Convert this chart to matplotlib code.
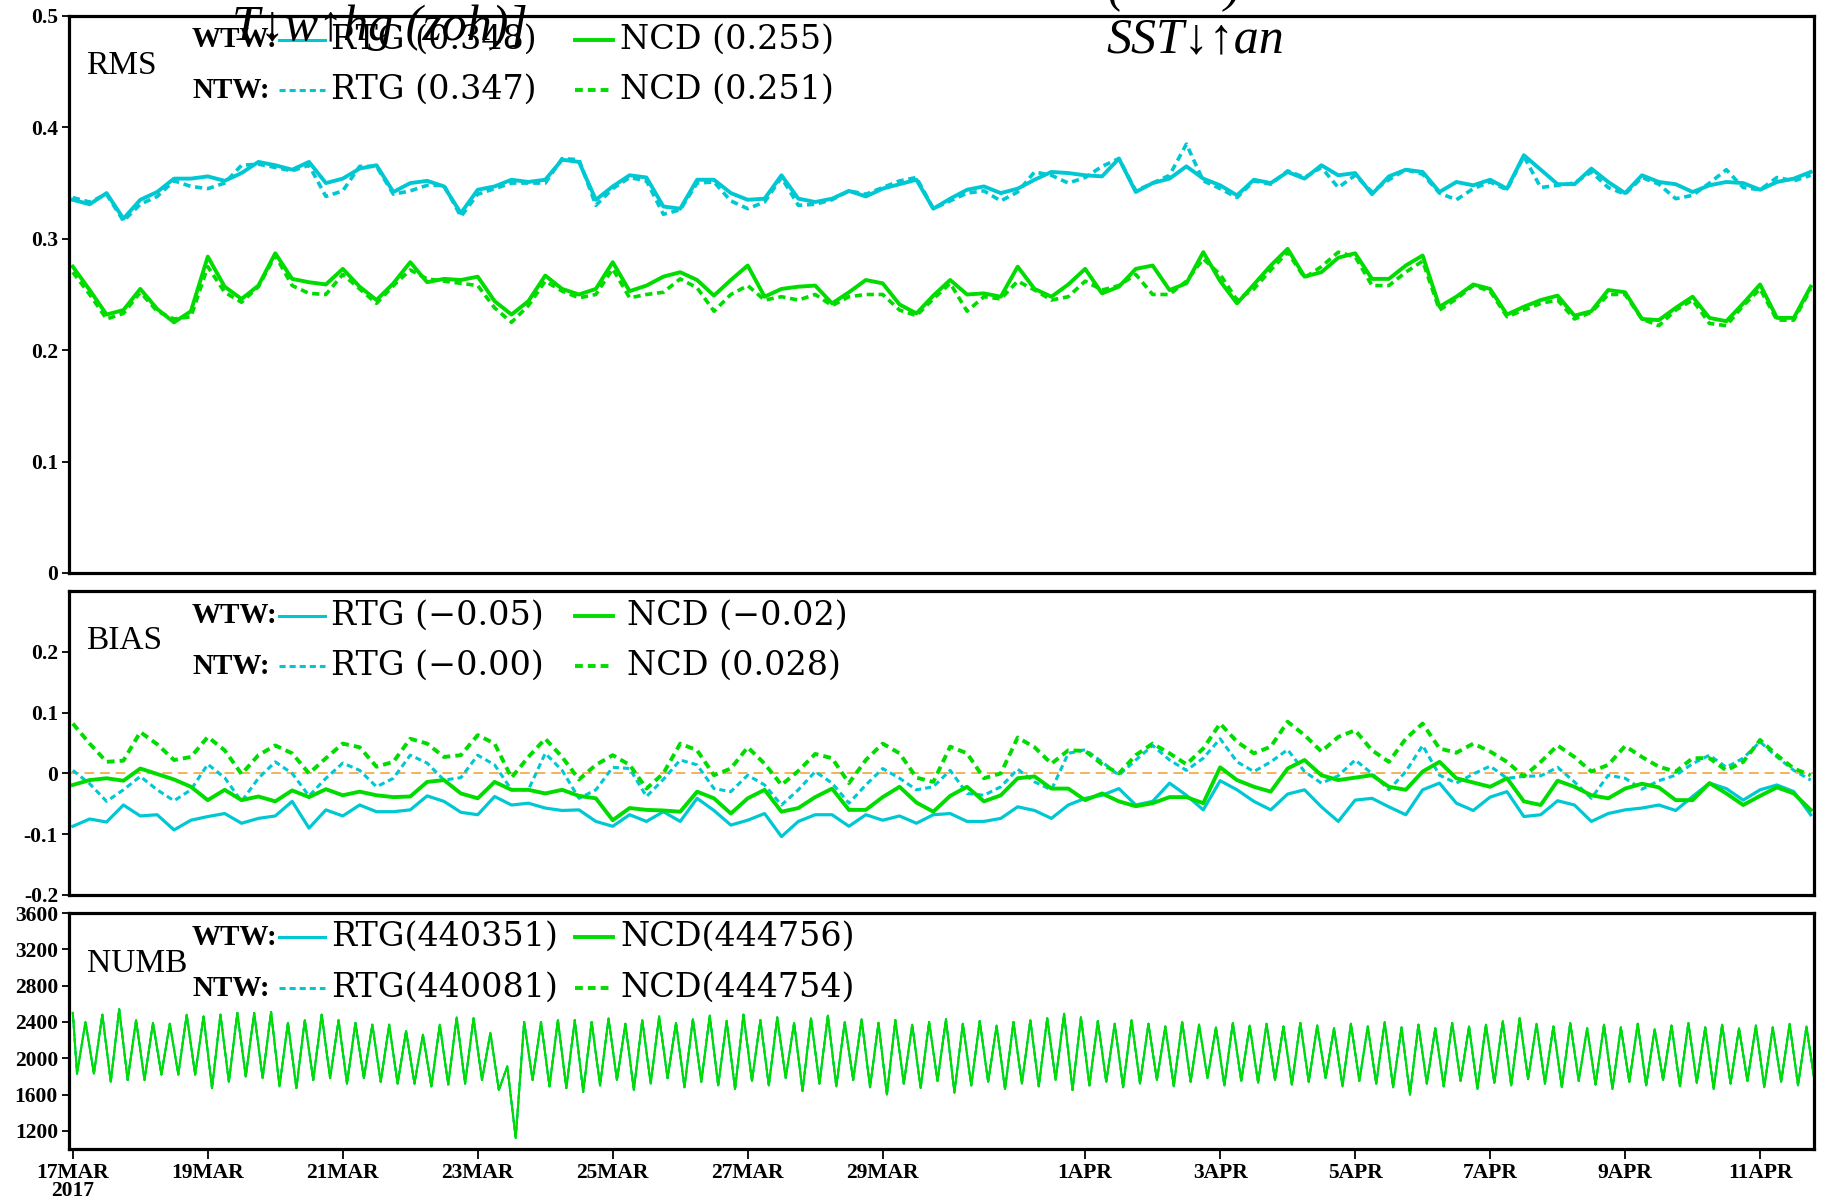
import matplotlib
matplotlib.use('Agg')
import matplotlib.pyplot as plt
import numpy as np

# 6-hourly SST verification, starting 17MAR2017 00Z
rms_rtg_wtw = [0.335, 0.331, 0.341, 0.318, 0.335, 0.342, 0.354, 0.354, 0.356, 0.352,
               0.359, 0.369, 0.366, 0.362, 0.369, 0.350, 0.354, 0.363, 0.366, 0.342,
               0.350, 0.352, 0.347, 0.323, 0.344, 0.347, 0.353, 0.351, 0.353, 0.371,
               0.369, 0.335, 0.347, 0.357, 0.355,
               0.329, 0.327, 0.353, 0.353, 0.341, 0.335, 0.336, 0.357, 0.336, 0.333,
               0.336, 0.343, 0.338, 0.345, 0.349, 0.353, 0.327, 0.336, 0.344, 0.347,
               0.341, 0.345, 0.353, 0.360, 0.359, 0.357, 0.356, 0.372, 0.342, 0.350,
               0.354, 0.365, 0.354, 0.348,
               0.339, 0.353, 0.350, 0.360, 0.354, 0.366, 0.357, 0.359, 0.340, 0.356,
               0.362, 0.360, 0.342, 0.351, 0.348, 0.353, 0.345, 0.375, 0.362, 0.349,
               0.349, 0.363, 0.351, 0.341, 0.357, 0.351, 0.349, 0.342, 0.348, 0.351,
               0.350, 0.344, 0.351, 0.354, 0.360]
rms_rtg_ntw = [0.337, 0.333, 0.340, 0.316, 0.331, 0.338, 0.352, 0.347, 0.345, 0.350,
               0.366, 0.367, 0.364, 0.361, 0.366, 0.338, 0.343, 0.365, 0.365, 0.340,
               0.343, 0.348, 0.348, 0.320, 0.340, 0.345, 0.350, 0.350, 0.350, 0.372,
               0.371, 0.330, 0.345, 0.355, 0.352,
               0.322, 0.326, 0.350, 0.351, 0.334, 0.327, 0.333, 0.355, 0.330, 0.331,
               0.335, 0.343, 0.340, 0.346, 0.352, 0.355, 0.327, 0.334, 0.341, 0.343,
               0.334, 0.342, 0.360, 0.357, 0.350, 0.355, 0.365, 0.372, 0.343, 0.350,
               0.357, 0.385, 0.352, 0.345,
               0.337, 0.352, 0.349, 0.361, 0.355, 0.364, 0.346, 0.357, 0.342, 0.353,
               0.362, 0.358, 0.341, 0.335, 0.345, 0.351, 0.344, 0.374, 0.346, 0.348,
               0.350, 0.360, 0.346, 0.340, 0.355, 0.349, 0.336, 0.339, 0.350, 0.362,
               0.346, 0.344, 0.355, 0.352, 0.357]
rms_ncd_wtw = [0.275, 0.254, 0.232, 0.236, 0.255, 0.237, 0.225, 0.235, 0.284, 0.257,
               0.246, 0.258, 0.287, 0.264, 0.261, 0.259, 0.273, 0.257, 0.245, 0.260,
               0.279, 0.261, 0.264, 0.263, 0.266, 0.244, 0.232, 0.244, 0.267, 0.255,
               0.250, 0.255, 0.279, 0.253, 0.258,
               0.266, 0.270, 0.263, 0.249, 0.263, 0.276, 0.248, 0.255, 0.257, 0.258,
               0.242, 0.252, 0.263, 0.260, 0.241, 0.233, 0.249, 0.263, 0.250, 0.251,
               0.248, 0.275, 0.255, 0.248, 0.259, 0.273, 0.251, 0.257, 0.273, 0.276,
               0.254, 0.260, 0.288, 0.262,
               0.242, 0.259, 0.276, 0.291, 0.266, 0.270, 0.283, 0.287, 0.264, 0.264,
               0.276, 0.285, 0.239, 0.248, 0.259, 0.255, 0.232, 0.239, 0.245, 0.249,
               0.231, 0.235, 0.254, 0.252, 0.228, 0.227, 0.238, 0.248, 0.229, 0.226,
               0.242, 0.259, 0.229, 0.229, 0.257]
rms_ncd_ntw = [0.270, 0.250, 0.228, 0.233, 0.252, 0.235, 0.228, 0.230, 0.275, 0.252,
               0.243, 0.257, 0.285, 0.258, 0.251, 0.250, 0.268, 0.255, 0.242, 0.258,
               0.272, 0.264, 0.262, 0.260, 0.258, 0.238, 0.225, 0.240, 0.262, 0.253,
               0.247, 0.250, 0.273, 0.247, 0.250,
               0.252, 0.264, 0.256, 0.235, 0.250, 0.258, 0.245, 0.248, 0.245, 0.250,
               0.240, 0.248, 0.250, 0.250, 0.236, 0.231, 0.246, 0.260, 0.235, 0.248,
               0.246, 0.262, 0.254, 0.245, 0.248, 0.262, 0.254, 0.258, 0.268, 0.250,
               0.250, 0.262, 0.282, 0.268,
               0.245, 0.255, 0.272, 0.288, 0.265, 0.275, 0.288, 0.284, 0.258, 0.258,
               0.270, 0.280, 0.236, 0.246, 0.258, 0.253, 0.230, 0.236, 0.242, 0.245,
               0.228, 0.234, 0.250, 0.250, 0.228, 0.222, 0.236, 0.245, 0.224, 0.222,
               0.240, 0.255, 0.227, 0.227, 0.255]

bias_rtg_wtw = [-0.087, -0.075, -0.080, -0.052, -0.070, -0.068, -0.093, -0.077, -0.071, -0.066,
                -0.082, -0.074, -0.070, -0.046, -0.090, -0.060, -0.070, -0.052, -0.063, -0.063,
                -0.060, -0.037, -0.046, -0.064, -0.068, -0.038, -0.052, -0.049, -0.057, -0.061,
                -0.060, -0.079, -0.087, -0.068, -0.079,
                -0.063, -0.079, -0.041, -0.061, -0.085, -0.077, -0.066, -0.104, -0.079, -0.068,
                -0.068, -0.087, -0.068, -0.077, -0.070, -0.082, -0.068, -0.066, -0.079, -0.079,
                -0.074, -0.055, -0.061, -0.074, -0.052, -0.041, -0.036, -0.025, -0.052, -0.046,
                -0.016, -0.036, -0.060, -0.012,
                -0.027, -0.046, -0.060, -0.034, -0.027, -0.055, -0.079, -0.044, -0.041, -0.055,
                -0.068, -0.027, -0.016, -0.049, -0.061, -0.039, -0.030, -0.071, -0.068, -0.045,
                -0.052, -0.079, -0.066, -0.060, -0.057, -0.052, -0.061, -0.038, -0.016, -0.025,
                -0.044, -0.027, -0.019, -0.030, -0.068]
bias_rtg_ntw = [0.005, -0.017, -0.046, -0.027, -0.005, -0.027, -0.045, -0.027, 0.015, -0.007,
                -0.046, -0.008, 0.019, 0.000, -0.037, -0.008, 0.017, 0.005, -0.022, -0.008,
                0.030, 0.017, -0.011, -0.007, 0.030, 0.014, -0.027, -0.027, 0.033, 0.005,
                -0.041, -0.027, 0.010, 0.008, -0.038,
                -0.010, 0.022, 0.014, -0.025, -0.030, -0.003, -0.019, -0.052, -0.027, 0.003,
                -0.016, -0.049, -0.019, 0.008, -0.008, -0.027, -0.022, 0.005, -0.033, -0.036,
                -0.022, 0.007, -0.014, -0.027, 0.033, 0.039, 0.019, -0.003, 0.022, 0.046,
                0.022, 0.005, 0.025, 0.057,
                0.019, 0.003, 0.019, 0.039, 0.003, -0.016, -0.004, 0.022, 0.000, -0.027,
                0.003, 0.046, -0.003, -0.016, -0.001, 0.012, -0.008, -0.005, -0.004, 0.010,
                -0.014, -0.041, -0.003, -0.008, -0.026, -0.012, -0.003, 0.016, 0.030, 0.010,
                0.025, 0.052, 0.027, 0.005, -0.011]
bias_ncd_wtw = [-0.019, -0.011, -0.008, -0.012, 0.008, -0.001, -0.010, -0.022, -0.044, -0.027,
                -0.044, -0.038, -0.046, -0.028, -0.039, -0.026, -0.036, -0.030, -0.036, -0.039,
                -0.038, -0.014, -0.011, -0.033, -0.041, -0.014, -0.027, -0.027, -0.033, -0.027,
                -0.037, -0.041, -0.077, -0.057, -0.060,
                -0.061, -0.063, -0.030, -0.041, -0.066, -0.041, -0.027, -0.063, -0.057, -0.039,
                -0.025, -0.060, -0.060, -0.039, -0.022, -0.048, -0.063, -0.037, -0.022, -0.046,
                -0.036, -0.008, -0.005, -0.025, -0.025, -0.044, -0.033, -0.046, -0.054, -0.049,
                -0.039, -0.039, -0.049, 0.010,
                -0.011, -0.022, -0.030, 0.008, 0.022, -0.003, -0.011, -0.007, -0.003, -0.022,
                -0.027, 0.003, 0.019, -0.008, -0.015, -0.022, -0.008, -0.046, -0.052, -0.012,
                -0.022, -0.036, -0.041, -0.025, -0.017, -0.023, -0.044, -0.044, -0.016, -0.033,
                -0.052, -0.037, -0.023, -0.033, -0.060]
bias_ncd_ntw = [0.082, 0.049, 0.019, 0.021, 0.068, 0.048, 0.022, 0.027, 0.060, 0.038,
                -0.001, 0.030, 0.046, 0.033, 0.000, 0.025, 0.049, 0.043, 0.011, 0.019,
                0.057, 0.049, 0.027, 0.030, 0.063, 0.049, -0.007, 0.027, 0.057, 0.027,
                -0.010, 0.014, 0.030, 0.014, -0.025,
                0.000, 0.049, 0.038, -0.003, 0.008, 0.043, 0.016, -0.019, 0.004, 0.032,
                0.025, -0.016, 0.022, 0.049, 0.033, -0.007, -0.014, 0.044, 0.033, -0.008,
                0.000, 0.059, 0.043, 0.016, 0.038, 0.037, 0.015, 0.000, 0.030, 0.049,
                0.033, 0.015, 0.041, 0.082,
                0.052, 0.033, 0.044, 0.085, 0.063, 0.036, 0.060, 0.071, 0.038, 0.019,
                0.057, 0.082, 0.041, 0.034, 0.049, 0.036, 0.019, -0.005, 0.019, 0.046,
                0.027, 0.003, 0.014, 0.045, 0.027, 0.011, 0.003, 0.025, 0.025, 0.005,
                0.019, 0.055, 0.030, 0.008, -0.003]

# obs counts per hour: first value, then the low/high of every 6-hour cycle
numb_first = 2500
numb_trough = [1830, 1830, 1740, 1760, 1760, 1820, 1820, 1820, 1670, 1740,
               1800, 1780, 1690, 1670, 1760, 1780, 1720, 1780, 1740, 1720,
               1720, 1690, 1710, 1720, 1760, 1650, 1120, 1760, 1690, 1670, 1630,
               1700, 1760, 1650, 1720, 1780, 1680, 1740, 1700,
               1660, 1750, 1700, 1780, 1640, 1720, 1690, 1760,
               1680, 1600, 1720, 1670, 1750, 1620, 1700, 1740,
               1660, 1720, 1690, 1760, 1650, 1700, 1740, 1680,
               1720, 1760, 1690, 1740, 1780, 1700, 1750, 1730,
               1760, 1710, 1740, 1780, 1690, 1750, 1720, 1680,
               1600, 1720, 1690, 1750, 1660, 1730, 1700, 1770,
               1720, 1680, 1750, 1710, 1660, 1740, 1700, 1760,
               1690, 1730, 1660, 1720, 1750, 1680, 1740, 1700, 1720]
numb_peak = [2400, 2480, 2540, 2420, 2390, 2380, 2480, 2460, 2480, 2500,
             2500, 2510, 2390, 2420, 2480, 2420, 2390, 2370, 2370, 2300,
             2260, 2370, 2450, 2440, 2280, 1910, 2400, 2400, 2420, 2420, 2400,
             2440, 2380, 2420, 2460, 2390, 2430, 2470, 2410,
             2480, 2420, 2450, 2390, 2440, 2470, 2400, 2430,
             2390, 2420, 2370, 2400, 2430, 2380, 2410, 2360,
             2400, 2420, 2440, 2490, 2450, 2410, 2380, 2420,
             2380, 2350, 2400, 2370, 2340, 2390, 2360, 2380,
             2350, 2390, 2360, 2330, 2380, 2350, 2400, 2340,
             2370, 2330, 2390, 2350, 2370, 2410, 2440, 2380,
             2350, 2390, 2330, 2370, 2340, 2380, 2320, 2360,
             2390, 2340, 2370, 2330, 2360, 2340, 2380, 2350]

date_ticks = [0, 2, 4, 6, 8, 10, 12, 15, 17, 19, 21, 23, 25]
date_labels = ['17MAR\n2017', '19MAR', '21MAR', '23MAR', '25MAR', '27MAR', '29MAR',
               '1APR', '3APR', '5APR', '7APR', '9APR', '11APR']

CYAN = '#00c8d2'
GREEN = '#00dc00'
DASH = (0, (2.0, 1.3))
TICKFONT = dict(family='Liberation Serif', weight='bold', size=15.5)
LEGFONT = dict(family='DejaVu Serif', size=24)
TAGFONT = dict(family='Liberation Serif', weight='bold', size=21)
NAMEFONT = dict(family='Liberation Serif', size=24)

t6 = np.arange(len(rms_rtg_wtw)) * 0.25

# hourly counts: low near hh+1.5, high near hh+4.5 of each cycle
numb_t = [0.0]
numb_v = [numb_first]
for c in range(len(numb_peak)):
    numb_t += [(1.5 + 6 * c) / 24, (4.5 + 6 * c) / 24]
    numb_v += [numb_trough[c], numb_peak[c]]
numb_t.append((1.5 + 6 * len(numb_peak)) / 24)
numb_v.append(numb_trough[-1])

fig = plt.figure(figsize=(18.23, 12.01), dpi=100)
ax1 = fig.add_axes([0.0379, 0.5229, 0.9572, 0.4638])
ax2 = fig.add_axes([0.0379, 0.2548, 0.9572, 0.2531])
ax3 = fig.add_axes([0.0379, 0.0433, 0.9572, 0.1965])

for ax in (ax1, ax2, ax3):
    ax.set_xlim(-0.055, 25.8)
    for s in ax.spines.values():
        s.set_linewidth(2.3)
    ax.tick_params(axis='y', direction='out', length=5, width=1.3, pad=3)

# RMS
ax1.plot(t6, rms_rtg_wtw, color=CYAN, lw=2.8)
ax1.plot(t6, rms_rtg_ntw, color=CYAN, lw=2.6, ls=DASH)
ax1.plot(t6, rms_ncd_wtw, color=GREEN, lw=2.8)
ax1.plot(t6, rms_ncd_ntw, color=GREEN, lw=2.6, ls=DASH)
ax1.set_ylim(0, 0.5)
ax1.set_yticks([0, 0.1, 0.2, 0.3, 0.4, 0.5])
ax1.set_yticklabels(['0', '0.1', '0.2', '0.3', '0.4', '0.5'], **TICKFONT)

# BIAS
ax2.axhline(0, color='#f2b35a', lw=1.4, ls=(0, (5, 3)))
ax2.plot(t6, bias_rtg_wtw, color=CYAN, lw=2.3)
ax2.plot(t6, bias_rtg_ntw, color=CYAN, lw=2.2, ls=DASH)
ax2.plot(t6, bias_ncd_wtw, color=GREEN, lw=2.8)
ax2.plot(t6, bias_ncd_ntw, color=GREEN, lw=2.8, ls=DASH)
ax2.set_ylim(-0.2, 0.3)
ax2.set_yticks([-0.2, -0.1, 0, 0.1, 0.2])
ax2.set_yticklabels(['-0.2', '-0.1', '0', '0.1', '0.2'], **TICKFONT)

# NUMB
ax3.plot(numb_t, numb_v, color=CYAN, lw=1.4)
ax3.plot(numb_t, numb_v, color=CYAN, lw=1.4, ls=DASH)
ax3.plot(numb_t, numb_v, color=GREEN, lw=1.4)
ax3.plot(numb_t, numb_v, color=GREEN, lw=1.4, ls=DASH)
ax3.set_ylim(1000, 3600)
ax3.set_yticks(range(1200, 3601, 400))
ax3.set_yticklabels([str(v) for v in range(1200, 3601, 400)], **TICKFONT)

for ax in (ax1, ax2):
    ax.set_xticks([])
ax3.set_xticks(date_ticks)
ax3.set_xticklabels(date_labels, linespacing=0.85, **TICKFONT)
ax3.tick_params(axis='x', direction='out', length=7, width=1.3, pad=3)


def legend_rows(ax, name, rows, ys, name_y, ncd_x=0.3158):
    ax.text(0.010, name_y, name, transform=ax.transAxes, va='center', ha='left', **NAMEFONT)
    for (tag, rtg, ncd, ls), y in zip(rows, ys):
        ax.text(0.0705, y, tag, transform=ax.transAxes, va='center', ha='left', **TAGFONT)
        ax.plot([0.1203, 0.1467], [y, y], transform=ax.transAxes, color=CYAN,
                lw=2.2, ls=ls, clip_on=False)
        ax.text(0.150, y, rtg, transform=ax.transAxes, va='center', ha='left', **LEGFONT)
        ax.plot([0.290, 0.3117], [y, y], transform=ax.transAxes, color=GREEN,
                lw=2.8, ls=ls, clip_on=False)
        ax.text(ncd_x, y, ncd, transform=ax.transAxes, va='center', ha='left', **LEGFONT)


legend_rows(ax1, 'RMS',
            [('WTW:', 'RTG (0.348)', 'NCD (0.255)', '-'),
             ('NTW:', 'RTG (0.347)', 'NCD (0.251)', DASH)],
            [0.957, 0.867], 0.910)
legend_rows(ax2, 'BIAS',
            [('WTW:', 'RTG (\u22120.05)', 'NCD (\u22120.02)', '-'),
             ('NTW:', 'RTG (\u22120.00)', 'NCD (0.028)', DASH)],
            [0.918, 0.753], 0.836, ncd_x=0.3200)
legend_rows(ax3, 'NUMB',
            [('WTW:', 'RTG(440351)', 'NCD(444756)', '-'),
             ('NTW:', 'RTG(440081)', 'NCD(444754)', DASH)],
            [0.898, 0.682], 0.784)

# title strings rendered over the top panel
TITLEFONT = dict(family=['Liberation Serif', 'DejaVu Serif'], style='italic', size=36)
fig.text(0.1273, 0.9667, 'T\u2193w\u2191hg (zoh)]', va='baseline', ha='left', **TITLEFONT)
fig.text(0.6067, 0.9567, 'SST\u2193\u2191an', va='baseline', ha='left', **TITLEFONT)
fig.text(0.6078, 0.9992, '(        )', va='baseline', ha='left', **TITLEFONT)

fig.savefig('out.png', dpi=100, facecolor='white')
